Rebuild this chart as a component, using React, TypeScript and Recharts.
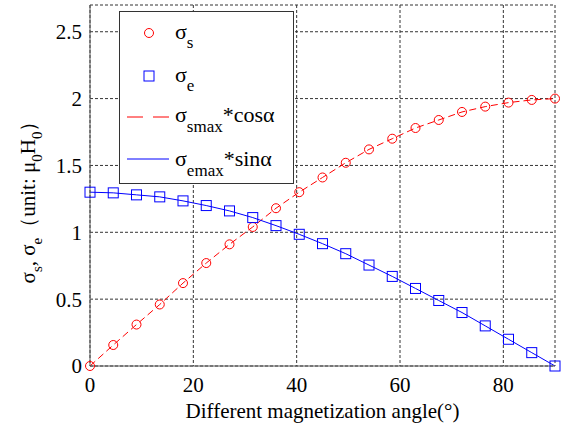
import { LineChart, Line, XAxis, YAxis, CartesianGrid, Legend } from 'recharts';

// magnetization angle samples (deg)
const angles = [0, 4.5, 9, 13.5, 18, 22.5, 27, 31.5, 36, 40.5, 45, 49.5, 54, 58.5, 63, 67.5, 72, 76.5, 81, 85.5, 90];
// σs and σe, in units of μ0H0
const sigmaS = [0, 0.157, 0.31, 0.46, 0.62, 0.77, 0.91, 1.04, 1.18, 1.3, 1.41, 1.52, 1.62, 1.7, 1.78, 1.84, 1.9, 1.94, 1.97, 1.99, 2.0];
const sigmaE = [1.3, 1.295, 1.28, 1.265, 1.235, 1.2, 1.16, 1.11, 1.05, 0.985, 0.915, 0.84, 0.755, 0.67, 0.58, 0.49, 0.4, 0.3, 0.2, 0.1, 0];

const xTicks = [0, 20, 40, 60, 80];
const yTicks = [0, 0.5, 1, 1.5, 2, 2.5];

const data = angles.map((a, i) => ({ angle: a, s: sigmaS[i], e: sigmaE[i] }));

const RED = '#ff0000';
const BLUE = '#0000ff';
const FONT = 'Liberation Serif, Tinos, DejaVu Serif, serif';
const tickStyle = { fill: '#000', fontSize: 21, fontFamily: FONT };

const CircleDot = (p: any) => (
  <circle key={`c${p.index}`} cx={p.cx} cy={p.cy} r={4.5} fill="none" stroke={RED} strokeWidth={1} />
);

const SquareDot = (p: any) => (
  <rect key={`q${p.index}`} x={p.cx - 5} y={p.cy - 5} width={10} height={10} fill="none" stroke={BLUE} strokeWidth={1} />
);

const LegendBox = () => (
  <svg width={175} height={173} style={{ display: 'block' }}>
    <rect x={0.5} y={0.5} width={174} height={172} fill="#fff" stroke="#333" strokeWidth={1} />
    <circle cx={30} cy={22} r={4.5} fill="none" stroke={RED} />
    <text x={56} y={28} fontSize={22} fontFamily={FONT} fill="#000">
      σ<tspan dy={9} fontSize={17}>s</tspan>
    </text>
    <rect x={25} y={60} width={10} height={10} fill="none" stroke={BLUE} />
    <text x={56} y={71} fontSize={22} fontFamily={FONT} fill="#000">
      σ<tspan dy={9} fontSize={17}>e</tspan>
    </text>
    <line x1={8} y1={106} x2={50} y2={106} stroke={RED} strokeDasharray="16 10" />
    <text x={56} y={111} fontSize={22} fontFamily={FONT} fill="#000">
      σ<tspan dy={10} fontSize={17}>smax</tspan>
      <tspan dy={-10}>*cosα</tspan>
    </text>
    <line x1={8} y1={148} x2={50} y2={148} stroke={BLUE} />
    <text x={56} y={155} fontSize={22} fontFamily={FONT} fill="#000">
      σ<tspan dy={10} fontSize={17}>emax</tspan>
      <tspan dy={-10}>*sinα</tspan>
    </text>
  </svg>
);

const YLabel = () => (
  <text transform="translate(35,197) rotate(-90)" textAnchor="middle" fontSize={21} fontFamily={FONT} fill="#000">
    σ<tspan dy={7} fontSize={15}>s</tspan>
    <tspan dy={-7}>, σ</tspan>
    <tspan dy={7} fontSize={15}>e</tspan>
    <tspan dy={-7}>（unit: μ</tspan>
    <tspan dy={7} fontSize={15}>0</tspan>
    <tspan dy={-7}>H</tspan>
    <tspan dy={7} fontSize={15}>0</tspan>
    <tspan dy={-7}>）</tspan>
  </text>
);

const XLabel = (props: any) => {
  const vb = props.viewBox || {};
  return (
    <text x={vb.x + vb.width / 2} y={418} textAnchor="middle" fontSize={21} fontFamily={FONT} fill="#000">
      Different magnetization angle(°)
    </text>
  );
};

export default function App() {
  return (
    <div style={{ position: 'absolute', left: 0, top: 0, width: 567, height: 425, background: '#fff', fontFamily: FONT }}>
      <LineChart width={567} height={425} data={data} margin={{ top: 5, right: 12, bottom: 0, left: 0 }}>
        <CartesianGrid stroke="#333" strokeDasharray="3 2" />
        <XAxis
          type="number"
          dataKey="angle"
          domain={[0, 90]}
          ticks={xTicks}
          height={59}
          tickLine={false}
          tickMargin={5}
          tick={tickStyle}
          axisLine={{ stroke: '#555' }}
          label={{ content: XLabel }}
        />
        <XAxis xAxisId="top" orientation="top" type="number" dataKey="angle" domain={[0, 90]} height={0} tick={false} tickLine={false} axisLine={{ stroke: '#555' }} />
        <YAxis
          type="number"
          domain={[0, 2.7]}
          ticks={yTicks}
          width={90}
          tickLine={false}
          tick={tickStyle}
          axisLine={{ stroke: '#555' }}
          label={{ content: YLabel }}
        />
        <YAxis yAxisId="right" orientation="right" type="number" domain={[0, 2.7]} width={0} tick={false} tickLine={false} axisLine={{ stroke: '#555' }} />
        <Line type="linear" dataKey="s" stroke={RED} strokeWidth={1} strokeDasharray="7 4" dot={CircleDot} activeDot={false} isAnimationActive={false} />
        <Line type="linear" dataKey="e" stroke={BLUE} strokeWidth={1} dot={SquareDot} activeDot={false} isAnimationActive={false} />
        <Legend
          layout="vertical"
          align="center"
          verticalAlign="middle"
          content={() => <LegendBox />}
          wrapperStyle={{ left: 119, top: 11, width: 175, height: 173 }}
        />
      </LineChart>
    </div>
  );
}
